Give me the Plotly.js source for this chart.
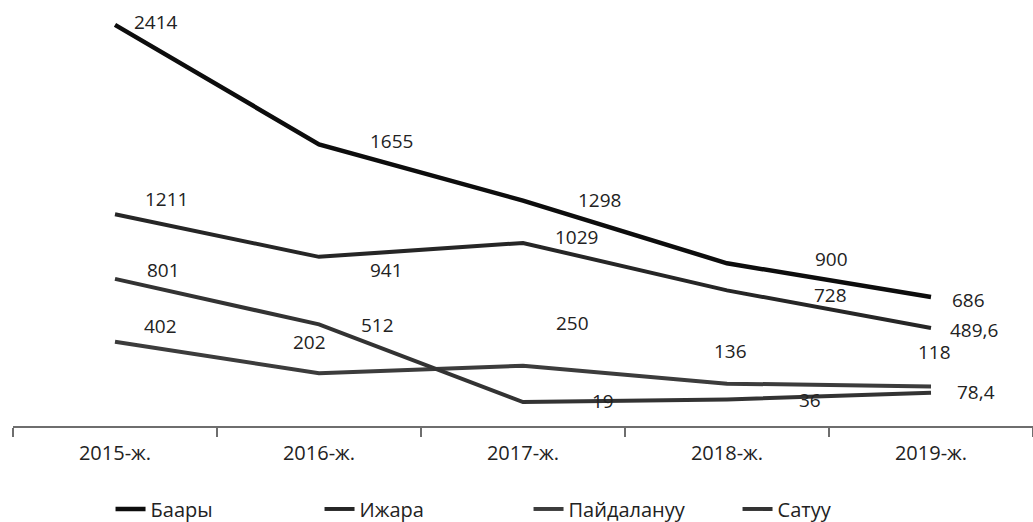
<!DOCTYPE html>
<html>
<head>
<meta charset="utf-8">
<script src="https://cdn.plot.ly/plotly-3.0.1.min.js"></script>
<style>html,body{margin:0;padding:0;background:#fff;}#chart{width:1033px;height:522px;}</style>
</head>
<body>
<div id="chart"></div>
<script>
// ---- data ----
var years = ['2015-ж.', '2016-ж.', '2017-ж.', '2018-ж.', '2019-ж.'];
var seriesNames = ['Баары', 'Ижара', 'Пайдалануу', 'Сатуу'];
var baary = [2414, 1655, 1298, 900, 686];
var ijara = [1211, 941, 1029, 728, 489.6];
var paidalanuu = [402, 202, 250, 136, 118];
var satuu = [801, 512, 19, 36, 78.4];

// ---- styling / label placement (pixels) ----
var colors = ['#0d0d0d', '#262626', '#3c3c3c', '#333333'];
var widths = [4.5, 4, 4, 4];
var labelDx = [
  [41, 72, 76, 104, 37],
  [51, 67, 53, 103, 43],
  [45, -10, 49, 3, 3],
  [48, 58, 80, 83, 45]
];
var labelDy = [
  [-3, -3, -1, -4, 3],
  [-15, 13, -6, 5, 2],
  [-16, -31, -43, -33, -34],
  [-9, 1, -1, 1, -1]
];

var allSeries = [baary, ijara, paidalanuu, satuu];
var FONT = '"Open Sans", "Noto Sans", sans-serif';
var TXT = '#222222';

function fmt(v) { return String(v).replace('.', ','); }

var traces = allSeries.map(function (vals, i) {
  return {
    type: 'scatter',
    mode: 'lines',
    name: seriesNames[i],
    x: years,
    y: vals,
    line: { color: colors[i], width: widths[i] },
    hoverinfo: 'skip'
  };
});

var annotations = [];
allSeries.forEach(function (vals, i) {
  vals.forEach(function (v, j) {
    annotations.push({
      x: years[j], y: v, xref: 'x', yref: 'y',
      text: fmt(v), showarrow: false,
      xshift: labelDx[i][j], yshift: -labelDy[i][j],
      font: { family: FONT, size: 19, color: TXT }
    });
  });
});

var layout = {
  width: 1033, height: 522,
  margin: { l: 13, r: 0, t: 5, b: 96 },
  paper_bgcolor: '#ffffff', plot_bgcolor: '#ffffff',
  font: { family: FONT, size: 19, color: TXT },
  showlegend: true,
  legend: {
    orientation: 'h',
    xref: 'container', yref: 'container',
    x: 0.107, y: 0.025, xanchor: 'left', yanchor: 'middle',
    entrywidth: 164,
    font: { family: FONT, size: 20, color: TXT },
    itemclick: false, itemdoubleclick: false
  },
  xaxis: {
    type: 'category',
    range: [-0.5, 4.5],
    showline: true, linecolor: '#6e6e6e', linewidth: 1.5,
    ticks: 'outside', ticklen: 9, tickcolor: '#6e6e6e', tickwidth: 1.5,
    tickson: 'boundaries',
    ticklabelstandoff: 8,
    showgrid: false, zeroline: false,
    tickfont: { family: FONT, size: 20, color: TXT },
    fixedrange: true
  },
  yaxis: {
    range: [-133, 2540],
    visible: false, showgrid: false, zeroline: false,
    fixedrange: true
  },
  annotations: annotations
};

Plotly.newPlot('chart', traces, layout, { displayModeBar: false, staticPlot: true });
</script>
</body>
</html>
